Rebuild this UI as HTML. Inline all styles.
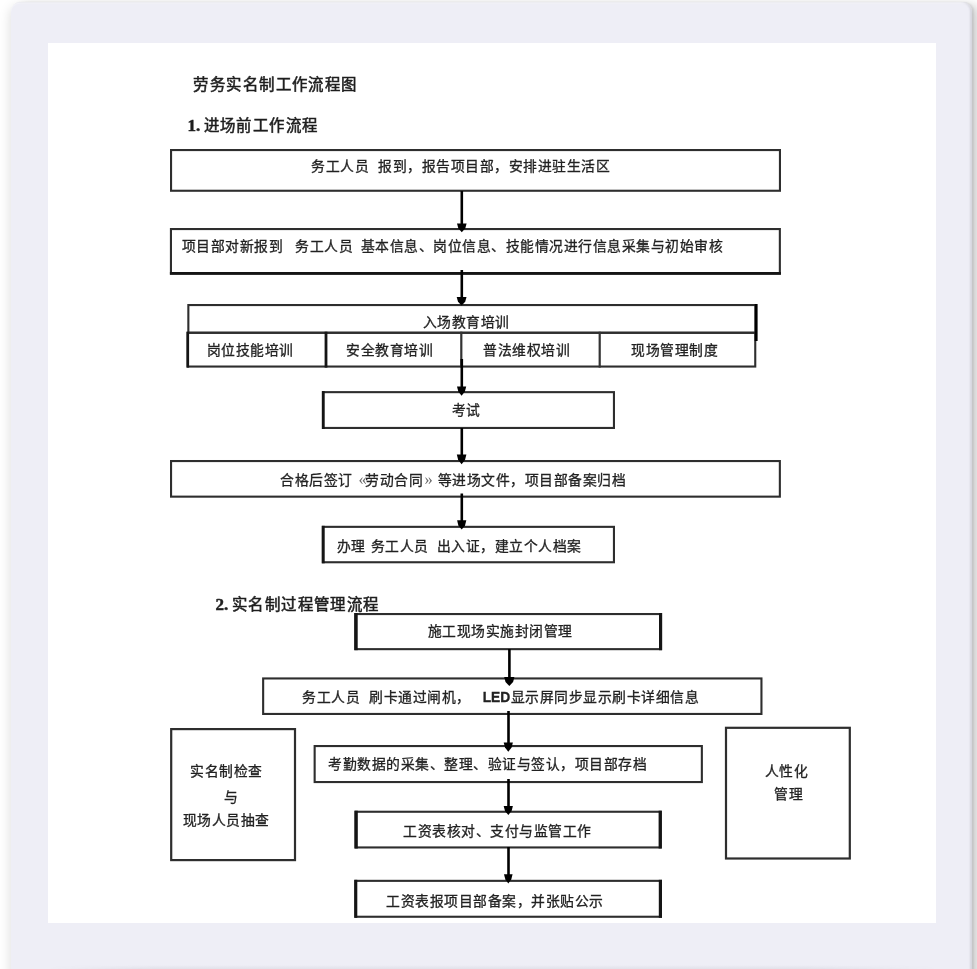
<!DOCTYPE html>
<html lang="zh-CN">
<head>
<meta charset="utf-8">
<title>劳务实名制工作流程图</title>
<style>
html,body{margin:0;padding:0;background:#fff;width:977px;height:969px;overflow:hidden;}
body{position:relative;font-family:"Liberation Serif",serif;color:#1e1e1e;}
.card{position:absolute;left:11px;top:2px;width:961px;height:1000px;background:#eeeef6;border-radius:9px;box-shadow:-1px 4px 12px rgba(0,0,0,.13),2px 0 1.5px rgba(50,50,70,.08),9px 2px 10px rgba(0,0,0,.13),inset -2px 0 2px rgba(40,40,60,.12),inset 0 1.5px 1px rgba(255,255,255,.4);}
.btm{position:absolute;left:48px;top:965px;width:890px;height:4px;background:linear-gradient(to bottom,rgba(60,60,80,0),rgba(60,60,80,.07));-webkit-mask-image:linear-gradient(to right,transparent,#000 12%,#000 85%,transparent);}
.paper{position:absolute;left:48px;top:43px;width:888px;height:880px;background:#fff;}
svg{position:absolute;left:0;top:0;}
.content{position:absolute;left:0;top:0;width:977px;height:969px;filter:blur(0.5px);}
.t{position:absolute;white-space:pre;font-size:13.8px;line-height:16px;height:16px;letter-spacing:0.5px;-webkit-text-stroke:0.3px #222;color:#222;}
.h{position:absolute;white-space:pre;font-size:15.4px;line-height:18px;letter-spacing:1.45px;-webkit-text-stroke:0.55px #1e1e1e;}
.h b{font-family:"Liberation Serif",serif;font-size:17px;letter-spacing:0;-webkit-text-stroke:0.5px #1e1e1e;}
.led{font-family:"Liberation Sans",sans-serif;font-weight:bold;}
</style>
</head>
<body>
<div class="card"></div>
<div class="paper"></div>
<div class="btm"></div>

<div class="content">
<svg width="977" height="969" viewBox="0 0 977 969" fill="none" stroke="#2e2e2e" stroke-width="2">
  <rect x="171.05" y="150.05" width="608.90" height="40.70" stroke-width="2.1"/>
  <rect x="170.95" y="229.05" width="608.90" height="44.60" stroke-width="2.1"/>
  <rect x="169.9" y="272" width="611.00" height="2.70" fill="#151515" stroke="none"/>
  <rect x="188.35" y="305.05" width="567.10" height="27.70" stroke-width="2.1"/>
  <rect x="187.85" y="332.75" width="567.40" height="33.80" stroke-width="2.1"/>
  <rect x="186.4" y="331.7" width="2.70" height="35.90" fill="#151515" stroke="none"/>
  <rect x="324.6" y="331.7" width="2.80" height="35.90" fill="#151515" stroke="none"/>
  <rect x="460.2" y="331.7" width="2.20" height="35.90" fill="#333" stroke="none"/>
  <rect x="598.6" y="331.7" width="2.20" height="35.90" fill="#333" stroke="none"/>
  <rect x="754.7" y="304" width="2.90" height="37.00" fill="#000" stroke="none"/>
  <rect x="322.95" y="392.15" width="291.00" height="35.80" stroke-width="2.1"/>
  <rect x="321.9" y="391.1" width="2.80" height="37.90" fill="#151515" stroke="none"/>
  <rect x="171.05" y="461.05" width="608.80" height="35.60" stroke-width="2.1"/>
  <rect x="322.85" y="526.85" width="291.10" height="35.40" stroke-width="2.1"/>
  <rect x="321.8" y="525.8" width="2.90" height="37.50" fill="#151515" stroke="none"/>
  <rect x="355.35" y="614.05" width="305.70" height="35.10" stroke-width="2.1"/>
  <rect x="354.3" y="613" width="3.40" height="37.20" fill="#151515" stroke="none"/>
  <rect x="659" y="613" width="3.10" height="37.20" fill="#151515" stroke="none"/>
  <rect x="263.15" y="678.45" width="498.30" height="35.50" stroke-width="2.1"/>
  <rect x="314.65" y="746.05" width="387.20" height="36.00" stroke-width="2.1"/>
  <rect x="355.55" y="811.75" width="305.20" height="35.70" stroke-width="2.1"/>
  <rect x="354.5" y="810.7" width="3.30" height="37.80" fill="#151515" stroke="none"/>
  <rect x="658.6" y="810.7" width="3.20" height="37.80" fill="#151515" stroke="none"/>
  <rect x="355.35" y="880.85" width="305.60" height="35.90" stroke-width="2.1"/>
  <rect x="354.3" y="879.8" width="3.00" height="38.00" fill="#151515" stroke="none"/>
  <rect x="658.8" y="879.8" width="3.20" height="38.00" fill="#151515" stroke="none"/>
  <rect x="171.20" y="729.10" width="123.80" height="131.00" stroke-width="2.2"/>
  <rect x="726.00" y="727.80" width="123.80" height="130.70" stroke-width="2.2"/>
  <g stroke="#000" stroke-width="2.6">
    <line x1="461.8" y1="191" x2="461.8" y2="226"/>
    <line x1="461.8" y1="270" x2="461.8" y2="299"/>
    <line x1="461.8" y1="359" x2="461.8" y2="388"/>
    <line x1="461.8" y1="428" x2="461.8" y2="457"/>
    <line x1="461.8" y1="493.5" x2="461.8" y2="523"/>
    <line x1="509.4" y1="649" x2="509.4" y2="679"/>
    <line x1="508.5" y1="711" x2="508.5" y2="745"/>
    <line x1="508.5" y1="779" x2="508.5" y2="808"/>
    <line x1="508.5" y1="847" x2="508.5" y2="877"/>
  </g>
  <g fill="#000" stroke="none">
    <polygon points="457.00,223.4 466.60,223.4 465.30,228.24 461.80,232.2 458.30,228.24"/>
    <polygon points="456.70,296.9 466.50,296.9 465.20,301.63 461.60,305.5 458.00,301.63"/>
    <polygon points="457.00,386.4 466.20,386.4 464.90,391.57 461.60,395.8 458.30,391.57"/>
    <polygon points="456.80,454.4 466.40,454.4 465.10,459.79 461.60,464.2 458.10,459.79"/>
    <polygon points="457.10,520.3 466.30,520.3 465.00,525.41 461.70,529.6 458.40,525.41"/>
    <polygon points="504.20,676.9 514.40,676.9 513.10,681.90 509.30,686.0 505.50,681.90"/>
    <polygon points="503.70,742.5 512.90,742.5 511.60,747.62 508.30,751.8 505.00,747.62"/>
    <polygon points="503.70,805.9 512.90,805.9 511.60,810.90 508.30,815.0 505.00,810.90"/>
    <polygon points="504.00,874.3 512.60,874.3 511.30,879.30 508.30,883.4 505.30,879.30"/>
  </g>
</svg>

<!-- headings -->
<div class="h" style="left:193.3px;top:76.1px">劳务实名制工作流程图</div>
<div class="h" style="left:187.6px;top:117.0px"><b>1.</b></div>
<div class="h" style="left:203.6px;top:117.0px">进场前工作流程</div>
<div class="h" style="left:215.4px;top:595.8px"><b>2.</b></div>
<div class="h" style="left:231.8px;top:595.8px">实名制过程管理流程</div>

<!-- section 1 text -->
<div class="t" style="left:311.2px;top:159px">务工人员</div>
<div class="t" style="left:378.4px;top:159px">报到，报告项目部，安排进驻生活区</div>
<div class="t" style="left:181.5px;top:239px">项目部对新报到</div>
<div class="t" style="left:295.1px;top:239px">务工人员</div>
<div class="t" style="left:360.5px;top:239px">基本信息、岗位信息、技能情况进行信息采集与初始审核</div>
<div class="t" style="left:422.8px;top:315px">入场教育培训</div>
<div class="t" style="left:206.6px;top:343.4px">岗位技能培训</div>
<div class="t" style="left:346.2px;top:343.4px">安全教育培训</div>
<div class="t" style="left:483.4px;top:343.4px">普法维权培训</div>
<div class="t" style="left:631.3px;top:343.4px">现场管理制度</div>
<div class="t" style="left:451.6px;top:403px">考试</div>
<div class="t" style="left:280.1px;top:472.6px">合格后签订</div>
<div class="t" style="left:358.4px;top:471.6px;letter-spacing:0;font-size:16.5px;color:#6a6a6a;-webkit-text-stroke:0">«</div>
<div class="t" style="left:365px;top:472.6px">劳动合同</div>
<div class="t" style="left:424.6px;top:471.6px;letter-spacing:0;font-size:16.5px;color:#6a6a6a;-webkit-text-stroke:0">»</div>
<div class="t" style="left:437.7px;top:472.6px">等进场文件，项目部备案归档</div>
<div class="t" style="left:336.8px;top:538.5px">办理</div>
<div class="t" style="left:370.8px;top:538.5px">务工人员</div>
<div class="t" style="left:436.6px;top:538.5px">出入证，建立个人档案</div>

<!-- section 2 text -->
<div class="t" style="left:427.6px;top:624px">施工现场实施封闭管理</div>
<div class="t" style="left:302.4px;top:690px">务工人员</div>
<div class="t" style="left:369px;top:690px">刷卡通过闸机，</div>
<div class="t" style="left:482.7px;top:690px;letter-spacing:0"><span class="led">LED</span></div>
<div class="t" style="left:510.6px;top:690px">显示屏同步显示刷卡详细信息</div>
<div class="t" style="left:328.1px;top:757.3px">考勤数据的采集、整理、验证与签认，项目部存档</div>
<div class="t" style="left:403.2px;top:823.6px">工资表核对、支付与监管工作</div>
<div class="t" style="left:386.1px;top:894px">工资表报项目部备案，并张贴公示</div>
<div class="t" style="left:190px;top:764.4px">实名制检查</div>
<div class="t" style="left:223.6px;top:790px">与</div>
<div class="t" style="left:182.5px;top:813px">现场人员抽查</div>
<div class="t" style="left:764.8px;top:764px">人性化</div>
<div class="t" style="left:774.4px;top:787.2px">管理</div>
</div>
</body>
</html>
